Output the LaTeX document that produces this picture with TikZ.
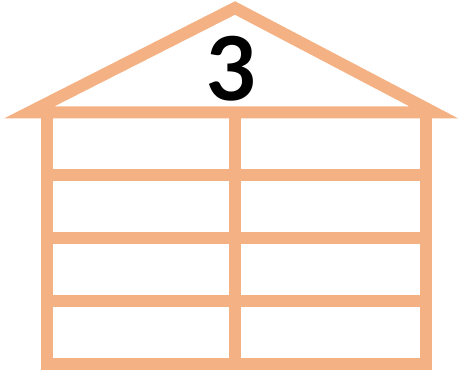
\documentclass[tikz,border=0pt]{standalone}
\usepackage{fontspec}
\newfontfamily\digitfont{Lato}
\definecolor{peach}{RGB}{244,177,131}
\begin{document}
\begin{tikzpicture}[x=1pt,y=-1pt,
  frame/.style={draw=peach,line width=12pt,line join=miter,miter limit=10},
  bar/.style={draw=peach,line width=12pt}]
\useasboundingbox (0,0) rectangle (458,374);
% roof
\coordinate (rl) at (29,112.5);
\coordinate (ra) at (235,8);
\coordinate (rr) at (434,112.5);
\draw[frame] (rl) -- (ra) -- (rr) -- cycle;
% walls
\coordinate (tl) at (46.5,112.5);
\coordinate (tr) at (426,112.5);
\coordinate (bl) at (46.5,364);
\coordinate (br) at (426,364);
\coordinate (tm) at (235,112.5);
\coordinate (bm) at (235,364);
\draw[frame] (tl) -- (bl) -- (br) -- (tr);
\draw[bar] (tm) -- (bm);
\foreach \y/\n in {175.4/a,238.2/b,301.1/c}{
  \coordinate (l\n) at (46.5,\y);
  \coordinate (r\n) at (426,\y);
  \draw[bar] (l\n) -- (r\n);
}
\node (num) at (232,69) {\digitfont\fontsize{88}{88}\selectfont\bfseries 3};
\end{tikzpicture}
\end{document}
